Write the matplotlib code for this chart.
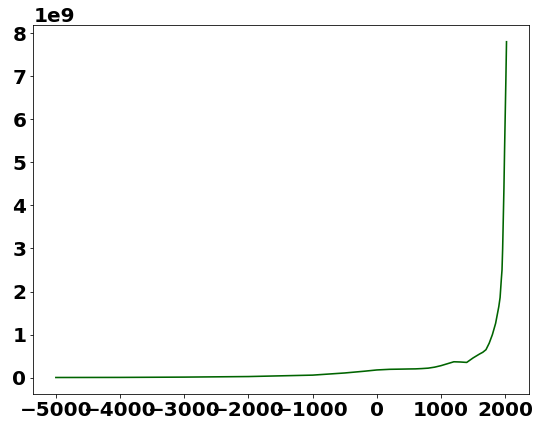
import matplotlib
matplotlib.use("Agg")
import matplotlib.pyplot as plt

years = [-5000, -4000, -3000, -2000, -1000, -500, -200, 0, 200, 400, 500, 600, 700,
         800, 900, 1000, 1100, 1200, 1300, 1400, 1500, 1600, 1650, 1700, 1750, 1800,
         1850, 1900, 1920, 1940, 1950, 1960, 1970, 1980, 1990, 2000, 2010, 2020]
population = [5e6, 7e6, 14e6, 27e6, 60e6, 110e6, 150e6, 180e6, 195e6, 200e6, 203e6,
              205e6, 212e6, 222e6, 245e6, 280e6, 325e6, 370e6, 365e6, 355e6, 460e6,
              550e6, 590e6, 650e6, 800e6, 1.0e9, 1.26e9, 1.65e9, 1.86e9, 2.3e9, 2.5e9,
              3.0e9, 3.7e9, 4.4e9, 5.3e9, 6.1e9, 6.9e9, 7.8e9]

fig = plt.figure(figsize=(7.5, 6), dpi=72)
ax = fig.add_axes([0.0617, 0.0873, 0.918, 0.855])
ax.plot(years, population, color="darkgreen", linewidth=1.6)
ax.tick_params(labelsize=20)
plt.setp(ax.get_xticklabels(), fontweight="bold")
plt.setp(ax.get_yticklabels(), fontweight="bold")
ax.yaxis.get_offset_text().set_fontsize(20)
ax.yaxis.get_offset_text().set_fontweight("bold")
fig.savefig("out.png", dpi=72)
